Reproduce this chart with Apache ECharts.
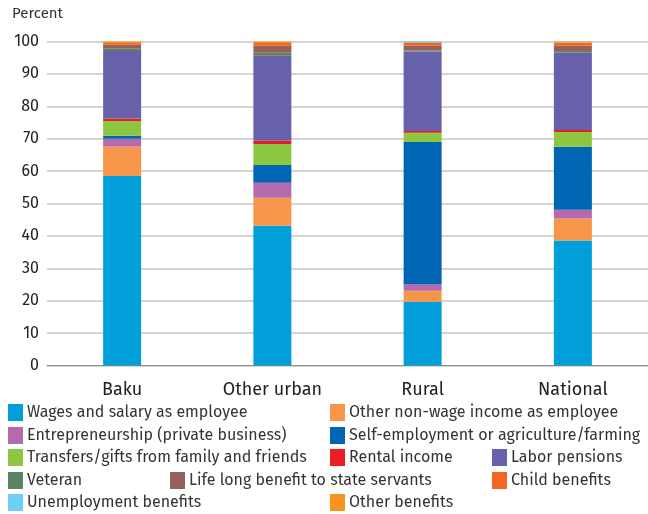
<!DOCTYPE html>
<html>
<head>
<meta charset="utf-8">
<script src="https://cdn.jsdelivr.net/npm/echarts@6/dist/echarts.min.js"></script>
<style>
  html, body { margin: 0; padding: 0; background: #fff; }
  #chart { width: 648px; height: 514px; }
</style>
</head>
<body>
<div id="chart"></div>
<script>
// Income sources by area, share of total (percent)
var categories = ['Baku', 'Other urban', 'Rural', 'National'];

var wages          = [58.5, 43.1, 19.7, 38.6];
var otherNonWage   = [9.1, 8.7, 3.4, 6.8];
var entrepreneur   = [2.4, 4.6, 1.9, 2.7];
var selfEmployment = [0.9, 5.5, 44.0, 19.4];
var transfers      = [4.6, 6.5, 2.8, 4.6];
var rental         = [0.7, 1.0, 0.6, 0.6];
var laborPensions  = [20.9, 26.2, 24.5, 23.9];
var veteran        = [0.7, 0.9, 0.3, 0.5];
var lifeLong       = [1.2, 2.2, 1.5, 1.6];
var childBenefits  = [0.5, 0.8, 1.0, 0.8];
var unemployment   = [0.0, 0.0, 0.3, 0.2];
var otherBenefits  = [0.5, 0.5, 0.0, 0.3];

var yTicks = [0, 10, 20, 30, 40, 50, 60, 70, 80, 90, 100];

var seriesDefs = [
  { name: 'Wages and salary as employee', data: wages, color: '#009fda' },
  { name: 'Other non-wage income as employee', data: otherNonWage, color: '#f7954a' },
  { name: 'Entrepreneurship (private business)', data: entrepreneur, color: '#b46aac' },
  { name: 'Self-employment or agriculture/farming', data: selfEmployment, color: '#0065b2' },
  { name: 'Transfers/gifts from family and friends', data: transfers, color: '#8dc63f' },
  { name: 'Rental income', data: rental, color: '#ed1c24' },
  { name: 'Labor pensions', data: laborPensions, color: '#6661aa' },
  { name: 'Veteran', data: veteran, color: '#5f8163' },
  { name: 'Life long benefit to state servants', data: lifeLong, color: '#94625a' },
  { name: 'Child benefits', data: childBenefits, color: '#f26522' },
  { name: 'Unemployment benefits', data: unemployment, color: '#6dcff6' },
  { name: 'Other benefits', data: otherBenefits, color: '#f7941d' }
];

// legend placement: [left, top] per entry
var legendPos = [
  [8, 404], [330, 404],
  [8, 427], [330, 427],
  [8, 449], [330, 449], [492, 449],
  [8, 472], [170, 472], [492, 472],
  [8, 494], [330, 494]
];

var fontFamily = '"Fira Sans", "Noto Sans", sans-serif';

var legends = seriesDefs.map(function (s, i) {
  return {
    data: [s.name],
    left: legendPos[i][0],
    top: legendPos[i][1],
    itemWidth: 15,
    itemHeight: 17,
    itemGap: 4,
    icon: 'rect',
    selectedMode: false,
    padding: 0,
    textStyle: { fontFamily: fontFamily, fontSize: 16, color: '#333', padding: [0, 0, 0, -1] }
  };
});

var series = seriesDefs.map(function (s) {
  return {
    name: s.name,
    type: 'bar',
    stack: 'total',
    barWidth: 38,
    data: s.data,
    itemStyle: { color: s.color },
    emphasis: { disabled: true }
  };
});

var chart = echarts.init(document.getElementById('chart'), null, { renderer: 'canvas' });
chart.setOption({
  animation: false,
  title: {
    text: 'Percent',
    left: 7,
    top: 1,
    textStyle: { fontFamily: fontFamily, fontSize: 15, fontWeight: 'normal', color: '#333' }
  },
  legend: legends,
  grid: { left: 47, right: 0, top: 41.5, bottom: 148.5, containLabel: false },
  xAxis: {
    type: 'category',
    data: categories,
    axisTick: { show: false },
    axisLine: { lineStyle: { color: '#8c8c8c', width: 1 } },
    axisLabel: { fontFamily: fontFamily, fontSize: 18, color: '#222', margin: 15 }
  },
  yAxis: {
    type: 'value',
    min: yTicks[0],
    max: yTicks[yTicks.length - 1],
    interval: 10,
    axisLine: { show: false },
    axisTick: { show: false },
    splitLine: { lineStyle: { color: '#d4d4d4', width: 2 } },
    axisLabel: { fontFamily: fontFamily, fontSize: 16, color: '#222', margin: 8 }
  },
  series: series
});
</script>
</body>
</html>
